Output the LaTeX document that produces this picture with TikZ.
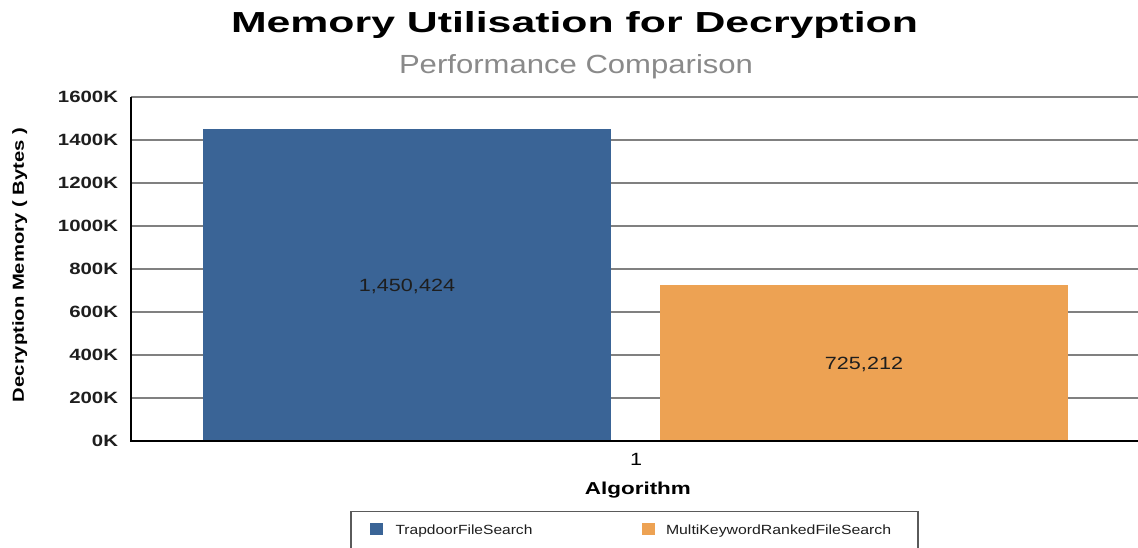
\documentclass[tikz,border=0pt]{standalone}
\usepackage{fontspec}
\setmainfont{Liberation Sans}
\usepackage{graphicx}
\definecolor{barblue}{HTML}{3A6496}
\definecolor{barorange}{HTML}{EDA253}
\definecolor{gridgray}{HTML}{808080}
\definecolor{subgray}{HTML}{8A8A8A}
\definecolor{labeldark}{HTML}{1E1E1E}
\definecolor{legendgray}{HTML}{5A5A5A}
\newcommand{\fitbox}[3]{\resizebox{#1pt}{#2pt}{#3}}
\newcommand{\hstretch}[2]{\scalebox{#1}[1]{#2}}
\begin{document}
\begin{tikzpicture}[x=1pt,y=-1pt,
  txt/.style={inner sep=0pt, outer sep=0pt},
  ticklbl/.style={txt, anchor=base east, text=labeldark, font=\fontsize{16.3}{18}\selectfont\bfseries},
  barlbl/.style={txt, anchor=base, text=labeldark, font=\fontsize{17.7}{20}\selectfont},
  legtxt/.style={txt, anchor=base west, text=labeldark, font=\fontsize{13.3}{15}\selectfont},
  gridline/.style={draw=gridgray, line width=1.6pt},
  axisline/.style={draw=black, line width=1.8pt},
  barbox/.style={draw=none, inner sep=0pt, outer sep=0pt, minimum width=408pt, anchor=south west},
  legsq/.style={draw=none, inner sep=0pt, minimum width=13pt, minimum height=12pt, anchor=north west},
  legendbox/.style={draw=legendgray, line width=1.2pt}]
\useasboundingbox (0,0) rectangle (1138,547);
\clip (0,0) rectangle (1138,547);
\fill[white] (0,0) rectangle (1138,547);
% titles
\node[txt, anchor=base west] (title) at (231,32.3) {\fitbox{687}{21}{\bfseries Memory Utilisation for Decryption}};
\node[txt, anchor=base west, text=subgray] (subtitle) at (399,73.3) {\fitbox{354}{19}{Performance Comparison}};
\node[txt, anchor=base west, rotate=90] (ytitle) at (23.8,402) {\fitbox{274}{11.6}{\bfseries Decryption Memory ( Bytes )}};
% grid
\foreach \v in {1,...,8} {
  \draw[gridline] (131,{441-43*\v}) -- (1140,{441-43*\v});
}
% tick labels
\foreach \v in {0,...,8} {
  \pgfmathtruncatemacro{\lab}{200*\v}
  \node[ticklbl] (tick\v) at (118,{441-43*\v+5.85}) {\hstretch{1.25}{\lab K}};
}
% bars
\node[barbox, fill=barblue, minimum height=311.8pt] (bar1) at (203,441) {};
\node[barbox, fill=barorange, minimum height=155.9pt] (bar2) at (660,441) {};
\node[barlbl] (val1) at ([yshift=-6.35pt]bar1.center) {\hstretch{1.22}{1,450,424}};
\node[barlbl] (val2) at ([yshift=-6.35pt]bar2.center) {\hstretch{1.22}{725,212}};
% axes
\draw[axisline] (131,97) -- (131,441) -- (1140,441);
% x labels
\node[barlbl, text=black] (cat) at (636,465) {\hstretch{1.22}{1}};
\node[txt, anchor=base] (xtitle) at (637.9,494) {\fitbox{106}{12.5}{\bfseries Algorithm}};
% legend
\draw[legendbox] (351,511.5) rectangle (918,570);
\node[legsq, fill=barblue] (sq1) at (369.6,523) {};
\node[legtxt] (lg1) at (395.5,534) {\hstretch{1.17}{TrapdoorFileSearch}};
\node[legsq, fill=barorange] (sq2) at (642,523) {};
\node[legtxt] (lg2) at (666,534) {\hstretch{1.19}{MultiKeywordRankedFileSearch}};
\end{tikzpicture}
\end{document}
